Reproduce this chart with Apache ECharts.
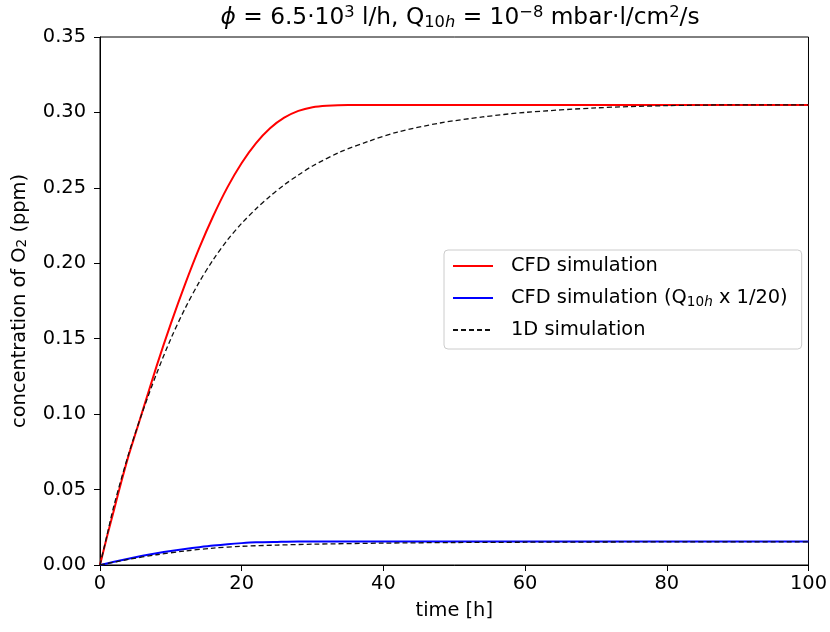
<!DOCTYPE html>
<html>
<head>
<meta charset="utf-8">
<script src="https://cdn.jsdelivr.net/npm/echarts@6/dist/echarts.min.js"></script>
<style>html,body{margin:0;padding:0;background:#fff}#c{width:830px;height:632px}</style>
</head>
<body>
<div id="c"></div>
<script>
// ---- data ----
const cfdT = [0, 1, 2, 3, 4, 5, 6, 8, 10, 12, 14, 16, 18, 20, 22, 24, 26, 28, 30, 32, 35, 40, 50, 60, 80, 100];
const cfdV = [0, 0.019, 0.037, 0.055, 0.072, 0.087, 0.102, 0.132, 0.160, 0.186, 0.210, 0.2315, 0.2505, 0.2665, 0.2795, 0.2895, 0.2965, 0.3010, 0.3035, 0.3045, 0.305, 0.305, 0.305, 0.305, 0.305, 0.305];

const cfdLowT = [0, 2, 4, 6, 8, 10, 12, 14, 16, 18, 20, 22, 25, 28, 32, 40, 60, 80, 100];
const cfdLowV = [0, 0.0021, 0.0042, 0.0061, 0.0078, 0.0093, 0.0106, 0.0118, 0.0129, 0.0138, 0.0145, 0.0150, 0.0153, 0.0155, 0.0155, 0.0155, 0.0155, 0.0155, 0.0155];

const oneDT = [0, 1, 2, 4, 6, 8, 10, 12, 14, 16, 18, 20, 22, 24, 26, 28, 30, 34, 38, 42, 48, 54, 60, 70, 80, 90, 100];
const oneDV = [0, 0.020, 0.040, 0.073, 0.1015, 0.127, 0.150, 0.170, 0.1875, 0.2025, 0.2155, 0.2265, 0.236, 0.2445, 0.252, 0.2585, 0.2645, 0.274, 0.281, 0.287, 0.293, 0.297, 0.300, 0.303, 0.3045, 0.305, 0.305];

const oneDLowT = [0, 4, 8, 12, 16, 20, 25, 30, 40, 50, 60, 80, 100];
const oneDLowV = [0, 0.0037, 0.0068, 0.0093, 0.0112, 0.0124, 0.0132, 0.0138, 0.0145, 0.0149, 0.0151, 0.0153, 0.0153];

const xTicks = [0, 20, 40, 60, 80, 100];
const yTicks = [0, 0.05, 0.10, 0.15, 0.20, 0.25, 0.30, 0.35];

const names = ['CFD simulation', 'CFD simulation (Q₁₀ₕ x 1/20)', '1D simulation'];

function pairs(t, v) { return t.map((x, i) => [x, v[i]]); }

const FONT = 'DejaVu Sans';
const FS = 19.4, TFS = 23.3, SFS = 13.6, TSFS = 16.3;
const DASH = {color: '#111', width: 1.3, type: [5, 3]};
const chart = echarts.init(document.getElementById('c'), null, {renderer: 'canvas'});
chart.setOption({
  animation: false,
  backgroundColor: '#fff',
  textStyle: {fontFamily: FONT},
  title: {
    text: '{i|ϕ} = 6.5·10{sup|3} l/h, Q{sub|10}{subi|h} = 10{sup|−8} mbar·l/cm{sup|2}/s',
    left: 455, top: 0, textAlign: 'center',
    textStyle: {
      fontFamily: FONT, fontSize: TFS, fontWeight: 'normal', color: '#000',
      rich: {
        i: {fontFamily: FONT, fontSize: TFS, fontStyle: 'italic', color: '#000'},
        sup: {fontFamily: FONT, fontSize: TSFS, color: '#000', verticalAlign: 'bottom', padding: [0, 0, 10, 0]},
        sub: {fontFamily: FONT, fontSize: TSFS, color: '#000', verticalAlign: 'bottom'},
        subi: {fontFamily: FONT, fontSize: TSFS, fontStyle: 'italic', color: '#000', verticalAlign: 'bottom'}
      }
    }
  },
  grid: {left: 100, right: 20, top: 37, bottom: 67, show: true, borderColor: '#000', borderWidth: 1, backgroundColor: 'transparent'},
  legend: {
    data: names,
    left: 444, top: 250,
    orient: 'vertical',
    itemWidth: 40, itemHeight: 14, itemGap: 10,
    padding: [5, 14, 8, 8],
    borderColor: '#ccc', borderWidth: 1, borderRadius: 4,
    backgroundColor: '#fff',
    itemStyle: {opacity: 0},
    textStyle: {fontFamily: FONT, fontSize: FS, lineHeight: 22, color: '#000', padding: [0, 0, 0, 13],
      rich: {
        s: {fontFamily: FONT, fontSize: SFS, color: '#000', verticalAlign: 'bottom'},
        si: {fontFamily: FONT, fontSize: SFS, fontStyle: 'italic', color: '#000', verticalAlign: 'bottom'}
      }},
    formatter: function (n) {
      if (n === names[1]) return 'CFD simulation (Q{s|10}{si|h} x 1/20)';
      return n;
    }
  },
  xAxis: {
    type: 'value', min: 0, max: 100, interval: 20,
    name: 'time [h]', nameLocation: 'middle', nameGap: 36,
    nameTextStyle: {fontFamily: FONT, fontSize: FS, color: '#000'},
    axisLine: {show: true, lineStyle: {color: '#000', width: 1}},
    axisTick: {show: true, inside: false, length: 6, lineStyle: {color: '#000'}},
    axisLabel: {fontFamily: FONT, fontSize: FS, color: '#000', margin: 9},
    splitLine: {show: false}
  },
  yAxis: {
    type: 'value', min: 0, max: 0.35, interval: 0.05,
    name: 'concentration of O{sub|2} (ppm)', nameLocation: 'middle', nameGap: 71, nameRotate: 90,
    nameTextStyle: {fontFamily: FONT, fontSize: FS, color: '#000',
      rich: {sub: {fontFamily: FONT, fontSize: SFS, color: '#000', verticalAlign: 'bottom'}}},
    axisLine: {show: true, lineStyle: {color: '#000', width: 1}},
    axisTick: {show: true, inside: false, length: 6, lineStyle: {color: '#000'}},
    axisLabel: {fontFamily: FONT, fontSize: FS, color: '#000', margin: 14, formatter: v => v.toFixed(2)},
    splitLine: {show: false}
  },
  series: [
    {name: names[0], type: 'line', data: pairs(cfdT, cfdV), smooth: 0.3, symbol: 'none',
     lineStyle: {color: '#ff0000', width: 2}, itemStyle: {color: '#ff0000'}, z: 2},
    {name: names[1], type: 'line', data: pairs(cfdLowT, cfdLowV), smooth: 0.3, symbol: 'none',
     lineStyle: {color: '#0000ff', width: 2}, itemStyle: {color: '#0000ff'}, z: 2},
    {name: names[2], type: 'line', data: pairs(oneDT, oneDV), smooth: 0.3, symbol: 'none',
     lineStyle: DASH, itemStyle: {color: '#111'}, z: 3},
    {name: 'low1D', type: 'line', data: pairs(oneDLowT, oneDLowV), smooth: 0.3, symbol: 'none',
     lineStyle: DASH, itemStyle: {color: '#111'}, z: 3}
  ]
});
</script>
</body>
</html>
